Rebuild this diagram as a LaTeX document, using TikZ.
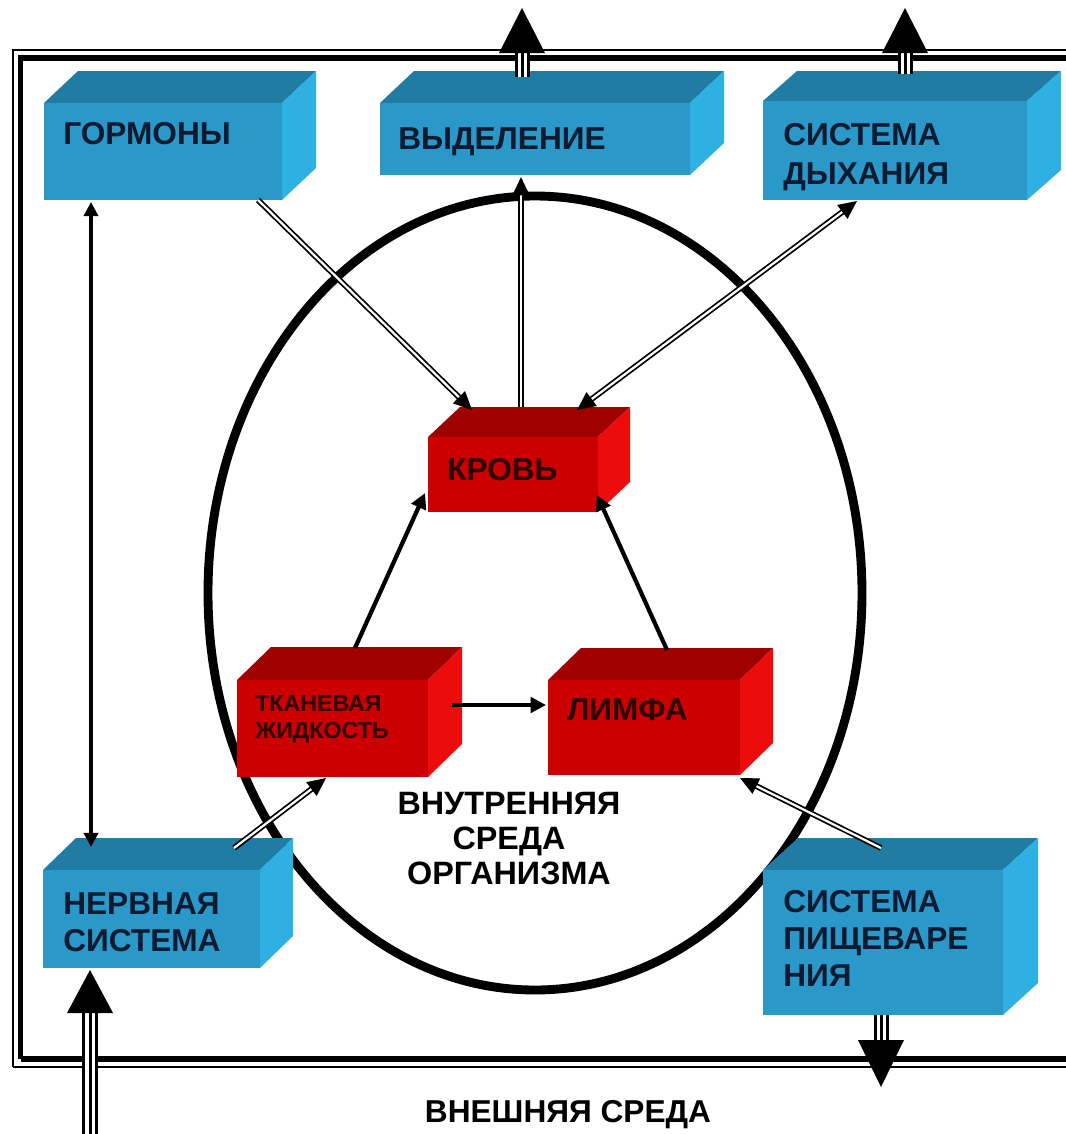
\documentclass[tikz,border=0pt]{standalone}
\usepackage{fontspec}
\setmainfont{Liberation Sans}
\usetikzlibrary{arrows.meta,calc}
\definecolor{bfront}{RGB}{42,152,200}
\definecolor{btop}{RGB}{33,124,163}
\definecolor{bside}{RGB}{46,176,226}
\definecolor{rfront}{RGB}{204,0,0}
\definecolor{rtop}{RGB}{160,0,0}
\definecolor{rside}{RGB}{236,12,12}
\definecolor{navytxt}{RGB}{14,26,48}
\definecolor{redtxt}{RGB}{45,0,0}
\newcommand\solidbox[8]{%
  \fill[#8top] (#2,#3) -- (#2+#6,#3-#7) -- (#4+#6,#3-#7) -- (#4,#3) -- cycle;
  \fill[#8side] (#4,#3) -- (#4+#6,#3-#7) -- (#4+#6,#5-#7) -- (#4,#5) -- cycle;
  \node[fill=#8front, inner sep=0pt, outer sep=0pt, minimum width={(#4-#2)*0.025cm}, minimum height={(#5-#3)*0.025cm}, anchor=north west] (#1) at (#2,#3) {};
}
\tikzset{
  lbl/.style={inner sep=0pt, anchor=north west, align=left, font=\bfseries\fontsize{22.5pt}{26.5pt}\selectfont},
  bluetxt/.style={lbl, text=navytxt},
  redlbl/.style={lbl, text=redtxt},
  dbl/.style={draw=black, double=white, line width=1.25pt, double distance=1.6pt},
  dtip/.style={-{Triangle[length=13pt,width=12pt]}},
  dtips/.style={{Triangle[length=13pt,width=12pt]}-{Triangle[length=13pt,width=12pt]}},
  sgl/.style={draw=black, line width=3pt, -{Triangle[length=11pt,width=11pt]}},
  shaft/.style={draw=black, line width=0.375cm, postaction={draw=white, line width=0.225cm}, postaction={draw=black, line width=0.075cm}},
}
\begin{document}
\begin{tikzpicture}[x=0.025cm,y=-0.025cm]
\useasboundingbox (0,0) rectangle (1066,1134);
\fill[white] (0,0) rectangle (1066,1134);
\clip (0,0) rectangle (1066,1134);
% frame
\draw[line width=1.6pt] (13,1067) -- (13,50) -- (1100,50);
\draw[line width=1.6pt] (13,1067) -- (1100,1067);
\draw[line width=3.8pt] (20.5,1059) -- (20.5,58) -- (1100,58);
\draw[line width=3.8pt] (20.5,1059) -- (1100,1059);
% inner environment
\draw[line width=6.3pt] (535,593) ellipse [x radius=327, y radius=397];
% boxes
\solidbox{gorm}{44}{103}{282}{200}{34}{32}{b}
\solidbox{vyd}{380}{103}{690}{175}{34}{32}{b}
\solidbox{dykh}{763}{101}{1027}{200}{34}{30}{b}
\solidbox{nerv}{43}{870}{260}{968}{33}{32}{b}
\solidbox{pisch}{763}{870}{1003}{1015}{35}{32}{b}
\solidbox{krov}{428}{437}{598}{512}{32}{30}{r}
\solidbox{tkan}{237}{680}{428}{777}{34}{33}{r}
\solidbox{limf}{548}{680}{740}{775}{33}{32}{r}
% free ends outside
\coordinate (outV) at (522,8);
\coordinate (outD) at (905,8);
\coordinate (outN) at (90,1140);
\coordinate (outP) at (881,1087);
% big arrows through the frame
\draw[shaft] ($(vyd.north west)+(142,-26)$) -- ($(outV)+(0,45)$);
\fill ($(outV)+(-23,45)$) -- (outV) -- ($(outV)+(23,45)$) -- cycle;
\draw[shaft] ($(dykh.north west)+(142,-27)$) -- ($(outD)+(0,45)$);
\fill ($(outD)+(-23,45)$) -- (outD) -- ($(outD)+(23,45)$) -- cycle;
\draw[shaft] (outN) -- ($(nerv.south west)+(47,45)$);
\fill ($(nerv.south west)+(24,45)$) -- ($(nerv.south west)+(47,2)$) -- ($(nerv.south west)+(70,45)$) -- cycle;
\draw[shaft] ($(pisch.south west)+(118,0)$) -- ($(outP)+(0,-47)$);
\fill ($(outP)+(-23,-47)$) -- (outP) -- ($(outP)+(23,-47)$) -- cycle;
% connectors
\draw[dbl,dtip] ($(gorm.south east)+(-24,0)$) -- ($(krov.north west)+(44,-27)$);
\draw[dbl,dtip] ($(krov.north west)+(93,-30)$) -- ($(vyd.south)+(-14,2)$);
\draw[dbl,dtips] ($(krov.north west)+(149,-27)$) -- ($(dykh.south west)+(94,1)$);
\draw[sgl] ($(tkan.north west)+(118,-32)$) -- ($(krov.south west)+(-3,-19)$);
\draw[sgl] ($(limf.north west)+(119,-30)$) -- ($(krov.south east)+(-1,-17)$);
\draw[sgl, line width=2.7pt] ($(tkan.east)+(24,-23.5)$) -- ($(limf.west)+(-2,-22.5)$);
\draw[sgl, line width=2.4pt, {Triangle[length=10pt,width=10pt]}-{Triangle[length=10pt,width=10pt]}] ($(gorm.south west)+(47,2)$) -- ($(nerv.north west)+(48,-23)$);
\draw[dbl,dtip] ($(nerv.north east)+(-26,-22)$) -- ($(tkan.south west)+(89,1)$);
\draw[dbl,dtip] ($(pisch.north west)+(118,-22)$) -- ($(limf.south east)+(0,3)$);
% texts
\node[bluetxt] (gormT) at (63,122) {ГОРМОНЫ};
\node[bluetxt] (vydT) at (398,127) {ВЫДЕЛЕНИЕ};
\node[bluetxt, font=\bfseries\fontsize{22.5pt}{27.5pt}\selectfont] (dykhT) at (783,123) {СИСТЕМА\\ДЫХАНИЯ};
\node[bluetxt] (nervT) at (63,892) {НЕРВНАЯ\\СИСТЕМА};
\node[bluetxt] (pischT) at (783,890) {СИСТЕМА\\ПИЩЕВАРЕ\\НИЯ};
\node[redlbl] (krovT) at (447,458) {КРОВЬ};
\node[redlbl, font=\bfseries\fontsize{16.5pt}{19.2pt}\selectfont] (tkanT) at (255,695) {ТКАНЕВАЯ\\ЖИДКОСТЬ};
\node[redlbl] (limfT) at (567,698) {ЛИМФА};
\node[lbl, anchor=north, align=center, font=\bfseries\fontsize{23pt}{25pt}\selectfont, text=black] (innerT) at (509,792) {ВНУТРЕННЯЯ\\СРЕДА\\ОРГАНИЗМА};
\node[lbl, anchor=north, text=black] (outerT) at (568,1100) {ВНЕШНЯЯ СРЕДА};
\end{tikzpicture}
\end{document}
